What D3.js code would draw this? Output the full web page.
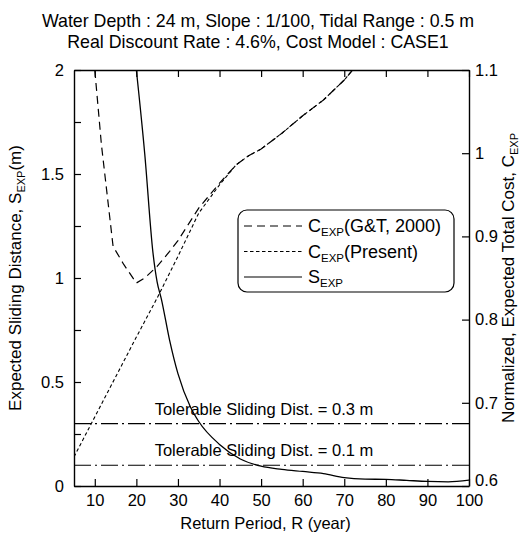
<!DOCTYPE html>
<html><head><meta charset="utf-8">
<script src="https://cdn.jsdelivr.net/npm/d3@7"></script>
<style>
body{margin:0;background:#fff;}
svg{font-family:"Liberation Sans",Arial,sans-serif;}
</style></head>
<body><svg id="c" width="530" height="535"></svg>
<script>
// ---- data ----
const titleLines = ["Water Depth : 24 m, Slope : 1/100, Tidal Range : 0.5 m",
                    "Real Discount Rate : 4.6%, Cost Model : CASE1"];
const xTicks = [10,20,30,40,50,60,70,80,90,100];
const yLeftTicks = [0,0.25,0.5,0.75,1,1.25,1.5,1.75,2];
const yLeftLabels = ["0","","0.5","","1","","1.5","","2"];
const yRightTicks = [0.6,0.7,0.8,0.9,1.0,1.1];
const yRightLabels = ["0.6","0.7","0.8","0.9","1","1.1"];
// S_EXP (left axis)
const sR   = [20, 22, 24, 25, 26, 28, 30, 33, 35, 40, 45, 50, 55, 60, 65, 70, 75, 80, 85, 90, 95, 100];
const sVal = [2.0,1.6,1.12,0.98,0.9,0.7,0.54,0.38,0.31,0.2,0.13,0.095,0.08,0.07,0.06,0.04,0.033,0.032,0.027,0.022,0.02,0.028];
// C_EXP (Present) (right axis)
const pR   = [5, 10, 15, 20, 25, 30, 35, 40, 44, 47, 50, 55, 60, 65, 70, 72];
const pVal = [0.635,0.683,0.731,0.779,0.826,0.876,0.928,0.962,0.986,0.997,1.005,1.024,1.045,1.064,1.088,1.1];
// C_EXP (G&T, 2000) (right axis)
const gR   = [10, 11.6, 14.4, 17, 20, 22, 25, 28, 30, 35, 40, 44, 47, 50, 55, 60, 65, 70, 72];
const gVal = [1.1,1.01,0.888,0.866,0.844,0.85,0.864,0.882,0.895,0.934,0.964,0.986,0.997,1.005,1.024,1.045,1.064,1.088,1.1];
const tolerable = [0.3, 0.1];
const legendItems = [
  {base:"C", sub:"EXP", rest:"(G&T, 2000)", dash:"8,5"},
  {base:"C", sub:"EXP", rest:"(Present)", dash:"3.5,2.5"},
  {base:"S", sub:"EXP", rest:"", dash:null}
];

const svg = d3.select("#c");
const L=74, R=469, T=70, B=486;
const x = d3.scaleLinear().domain([5,100]).range([L,R]);
const yL = d3.scaleLinear().domain([0,2]).range([B,T]);
const yR = d3.scaleLinear().domain([0.6,1.1]).range([B,T]);
const fs = 16.5;

// title
svg.selectAll("text.title").data(titleLines).join("text")
  .attr("x",258).attr("y",(d,i)=>27+i*21).attr("text-anchor","middle")
  .attr("font-size",17.8).text(d=>d);

const clip = svg.append("clipPath").attr("id","pc").append("rect")
  .attr("x",L).attr("y",T).attr("width",R-L).attr("height",B-T);

// axes
const axB = svg.append("g").attr("transform",`translate(0,${B})`)
  .call(d3.axisBottom(x).tickValues(xTicks).tickSizeInner(-7).tickSizeOuter(0).tickPadding(8));
const axT = svg.append("g").attr("transform",`translate(0,${T})`)
  .call(d3.axisTop(x).tickValues(xTicks).tickSizeInner(-7).tickSizeOuter(0).tickFormat(""));
const axL = svg.append("g").attr("transform",`translate(${L},0)`)
  .call(d3.axisLeft(yL).tickValues(yLeftTicks).tickSizeInner(-7).tickSizeOuter(0).tickPadding(10)
  .tickFormat((d,i)=>yLeftLabels[i]));
const axR = svg.append("g").attr("transform",`translate(${R},0)`)
  .call(d3.axisRight(yR).tickValues(yRightTicks).tickSizeInner(-7).tickSizeOuter(0).tickPadding(6)
  .tickFormat((d,i)=>yRightLabels[i]));
[axB,axT,axL,axR].forEach(a=>{
  a.selectAll("path").attr("stroke","#000").attr("stroke-width",1.4);
  a.selectAll("line").attr("stroke","#000").attr("stroke-width",1.2);
  a.selectAll("text").attr("font-size",fs).attr("fill","#000").attr("font-family","Liberation Sans, Arial, sans-serif");
});
axR.selectAll(".tick text").filter(d=>d===0.6).attr("dy","-0.05em");

// axis titles
svg.append("text").attr("x",(L+R)/2-6).attr("y",529).attr("text-anchor","middle")
  .attr("font-size",16.5).text("Return Period, R (year)");
const lt = svg.append("text").attr("transform",`translate(21,${(T+B)/2}) rotate(-90)`)
  .attr("text-anchor","middle").attr("font-size",17);
lt.append("tspan").text("Expected Sliding Distance, S");
lt.append("tspan").attr("font-size",11).attr("dy",4).text("EXP");
lt.append("tspan").attr("dy",-4).text("(m)");
const rt = svg.append("text").attr("transform",`translate(514,${(T+B)/2}) rotate(-90)`)
  .attr("text-anchor","middle").attr("font-size",17);
rt.append("tspan").text("Normalized, Expected Total Cost, C");
rt.append("tspan").attr("font-size",11).attr("dy",4).text("EXP");

const g = svg.append("g").attr("clip-path","url(#pc)");

// tolerable lines
g.selectAll("line.tol").data(tolerable).join("line")
  .attr("x1",L).attr("x2",R).attr("y1",d=>yL(d)).attr("y2",d=>yL(d))
  .attr("stroke","#000").attr("stroke-width",1.1).attr("stroke-dasharray","17,4,2,4");
svg.selectAll("text.tol").data(tolerable).join("text")
  .attr("x",264).attr("y",d=>yL(d)-9).attr("text-anchor","middle").attr("font-size",16.5)
  .text(d=>`Tolerable Sliding Dist. = ${d} m`);

// curves
const lineL = d3.line().x(d=>x(d[0])).y(d=>yL(d[1])).curve(d3.curveMonotoneX);
const lineR = d3.line().x(d=>x(d[0])).y(d=>yR(d[1]));
g.append("path").datum(d3.zip(pR,pVal)).attr("d",lineR).attr("fill","none")
  .attr("stroke","#000").attr("stroke-width",1.1).attr("stroke-dasharray","3.5,2.5");
g.append("path").datum(d3.zip(gR,gVal)).attr("d",lineR).attr("fill","none")
  .attr("stroke","#000").attr("stroke-width",1.2).attr("stroke-dasharray","8,5");
g.append("path").datum(d3.zip(sR,sVal)).attr("d",lineL).attr("fill","none")
  .attr("stroke","#000").attr("stroke-width",1.3);

// legend
const lg = svg.append("g");
lg.append("rect").attr("x",238).attr("y",210).attr("width",216).attr("height",82).attr("rx",9)
  .attr("fill","#fff").attr("stroke","#000").attr("stroke-width",1.2);
legendItems.forEach((it,i)=>{
  const yy = 226 + i*25.5;
  const ln = lg.append("line").attr("x1",244).attr("x2",302).attr("y1",yy).attr("y2",yy)
    .attr("stroke","#000").attr("stroke-width",1.2);
  if(it.dash) ln.attr("stroke-dasharray",it.dash);
  const t = lg.append("text").attr("x",308).attr("y",yy+6).attr("font-size",18);
  t.append("tspan").text(it.base);
  t.append("tspan").attr("font-size",11.5).attr("dy",4).text(it.sub);
  if(it.rest) t.append("tspan").attr("dy",-4).text(it.rest);
});
</script></body></html>
